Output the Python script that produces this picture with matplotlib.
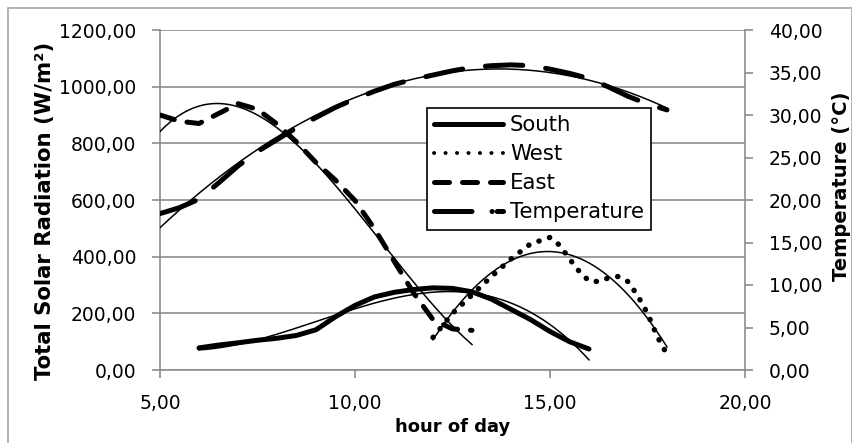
import matplotlib
matplotlib.use("Agg")
import matplotlib.pyplot as plt
import numpy as np
from matplotlib.lines import Line2D
from matplotlib.patches import Rectangle
from matplotlib.ticker import FuncFormatter, MultipleLocator

# radiation on vertical surfaces (W/m2) and outdoor air temperature (C)
south_h = [6.0, 6.5, 7.0, 7.5, 8.0, 8.5, 9.0, 9.5, 10.0, 10.5, 11.0, 11.5, 12.0,
           12.5, 13.0, 13.5, 14.0, 14.5, 15.0, 15.5, 16.0]
south_w = [78, 88, 96, 105, 112, 122, 142, 188, 228, 258, 274, 284, 290,
           288, 276, 250, 214, 178, 136, 100, 74]

west_h = [12.0, 12.5, 13.0, 13.5, 14.0, 14.5, 15.0, 15.25, 15.5, 15.75, 16.0, 16.25,
          16.5, 16.75, 17.0, 17.25, 17.5, 17.75, 18.0]
west_w = [115, 200, 265, 330, 392, 445, 468, 440, 392, 348, 314, 312,
          325, 330, 312, 262, 200, 118, 55]

east_h = [5.0, 5.5, 6.0, 6.5, 7.0, 7.5, 8.0, 8.5, 9.0, 9.5, 10.0, 10.5, 11.0,
          11.5, 12.0, 12.5, 13.0]
east_w = [900, 878, 870, 905, 940, 920, 868, 805, 732, 670, 598, 498, 385,
          272, 178, 145, 140]

temp_h = [5.0, 5.5, 6.0, 6.5, 7.0, 7.5, 8.0, 8.5, 9.0, 9.5, 10.0, 10.5, 11.0,
          11.5, 12.0, 12.5, 13.0, 13.5, 14.0, 14.5, 15.0, 15.5, 16.0, 16.5,
          17.0, 17.5, 18.0]
temp_c = [18.4, 19.1, 20.1, 22.0, 24.0, 25.7, 27.1, 28.5, 29.7, 30.9, 31.9, 32.8, 33.6,
          34.2, 34.7, 35.2, 35.6, 35.8, 35.9, 35.8, 35.4, 34.9, 34.3, 33.3,
          32.2, 31.3, 30.6]

# polynomial trendline order for each series
trend_order = {"South": 3, "West": 2, "East": 3, "Temperature": 2}

grid_col = "#8c8c8c"
tick_fs = 13.5
leg_fs = 15.3

plt.rcParams["font.family"] = ["DejaVu Sans"]

fig = plt.figure(figsize=(8.53, 4.43), dpi=100)
W, H = 853, 443
ax = fig.add_axes([160 / W, 1 - 370 / H, 585 / W, 340 / H])
ax2 = ax.twinx()

# chart area border
fig.patches.append(Rectangle((8 / W, -0.1), 844 / W, 1 - 8 / H + 0.1,
                             transform=fig.transFigure, fill=False,
                             edgecolor="#a6a6a6", lw=1.2, zorder=0))


def trend(ax_, x, y, order):
    c = np.polyfit(x, y, order)
    xs = np.linspace(min(x), max(x), 200)
    ax_.plot(xs, np.polyval(c, xs), color="black", lw=1.1, zorder=4)


thick = 3.6
ax.plot(south_h, south_w, color="black", lw=thick, solid_capstyle="round", zorder=3)
trend(ax, south_h, south_w, trend_order["South"])

ax.plot(west_h, west_w, color="black", lw=3.9, dashes=(0.05, 2.0),
        dash_capstyle="round", zorder=3)
trend(ax, west_h, west_w, trend_order["West"])

ax.plot(east_h, east_w, color="black", lw=thick, dashes=(3.0, 2.6),
        dash_capstyle="round", zorder=3)
trend(ax, east_h, east_w, trend_order["East"])

ax2.plot(temp_h, temp_c, color="black", lw=thick, dashes=(7.5, 4.6),
         dash_capstyle="round", zorder=3)
trend(ax2, temp_h, temp_c, trend_order["Temperature"])

ax.set_xlim(5, 20)
ax.set_ylim(0, 1200)
ax2.set_ylim(0, 40)
ax.xaxis.set_major_locator(MultipleLocator(5))
ax.yaxis.set_major_locator(MultipleLocator(200))
ax2.yaxis.set_major_locator(MultipleLocator(5))

comma = FuncFormatter(lambda v, p: f"{v:.2f}".replace(".", ","))
ax.xaxis.set_major_formatter(comma)
ax.yaxis.set_major_formatter(comma)
ax2.yaxis.set_major_formatter(comma)

ax.grid(axis="y", color=grid_col, lw=1.2)
ax.set_axisbelow(True)
for a in (ax, ax2):
    for s in a.spines.values():
        s.set_visible(False)
    a.tick_params(direction="out", length=6, width=1.2, color=grid_col,
                  labelsize=tick_fs, pad=11)
ax.spines["left"].set_visible(True)
ax.spines["bottom"].set_visible(True)
ax2.spines["right"].set_visible(True)
for s in (ax.spines["left"], ax.spines["bottom"], ax2.spines["right"]):
    s.set_color(grid_col)
    s.set_linewidth(1.2)
ax.tick_params(axis="x", pad=11)

ax.set_xlabel("hour of day", fontsize=13, fontweight="bold", labelpad=4)
ax.set_ylabel("Total Solar Radiation (W/m\u00b2)", fontsize=15.3, fontweight="bold")
ax2.set_ylabel("Temperature (°C)", fontsize=14, fontweight="bold")
ax.yaxis.set_label_coords(-0.18, 0.468)
ax2.yaxis.set_label_coords(1.148, 0.541)

handles = [
    Line2D([], [], color="black", lw=thick, solid_capstyle="round"),
    Line2D([], [], color="black", lw=2.8, dashes=(0.05, 2.9), dash_capstyle="round"),
    Line2D([], [], color="black", lw=thick, dashes=(3.0, 2.6), dash_capstyle="round"),
    Line2D([], [], color="black", lw=thick, dashes=(7.5, 4.0, 0.05, 1.0),
           dash_capstyle="round"),
]
leg = ax2.legend(handles, ["South", "West", "East", "Temperature"],
                 loc="upper left", bbox_to_anchor=(427 / W, 1 - 108 / H),
                 bbox_transform=fig.transFigure, fontsize=leg_fs, frameon=True,
                 fancybox=False, edgecolor="black", framealpha=1,
                 handlelength=3.25, handletextpad=0.3, labelspacing=0.42,
                 borderpad=0.35, borderaxespad=0)
leg.get_frame().set_linewidth(1.2)
leg.set_zorder(10)

fig.savefig("out.png", dpi=100)
